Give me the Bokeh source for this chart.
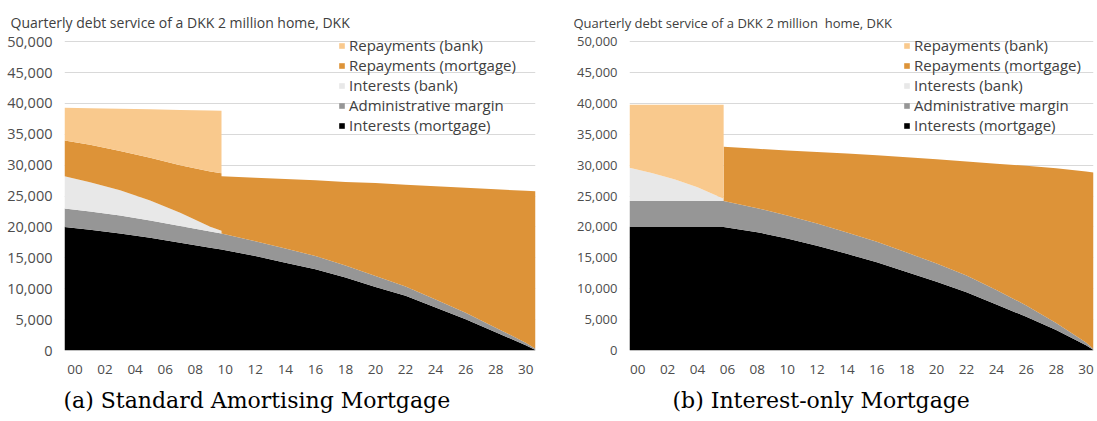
from bokeh.embed import file_html
from bokeh.layouts import row
from bokeh.models import (ColumnDataSource, FixedTicker, Legend, LegendItem,
                          NumeralTickFormatter, Range1d, Title)
from bokeh.plotting import figure
from bokeh.resources import INLINE

SERIES = ["Interests (mortgage)", "Administrative margin", "Interests (bank)",
          "Repayments (mortgage)", "Repayments (bank)"]
COLORS = ["#000000", "#969696", "#e8e8e8", "#dd9338", "#f9c98d"]

year_ticks = list(range(0, 31, 2))
year_labels = ["00", "02", "04", "06", "08", "10", "12", "14", "16", "18",
               "20", "22", "24", "26", "28", "30"]
dkk_ticks = list(range(0, 50001, 5000))

TITLE = "Quarterly debt service of a DKK 2 million home, DKK"
TITLE_B = "Quarterly debt service of a DKK 2 million\u00a0 home, DKK"

# (a) standard amortising mortgage, bank loan ends after ~10 years
a_years = [-0.7, 1, 3, 5, 7, 9, 9.75, 9.75, 12, 14, 16, 18, 20, 22, 24, 26, 28, 30, 30.65]
a_int_mortgage = [20000, 19550, 18950, 18250, 17450, 16650, 16350, 16350, 15300, 14200,
                  13150, 11800, 10300, 8850, 6950, 5050, 2950, 850, 100]
a_admin_margin = [3000, 2950, 2900, 2800, 2700, 2600, 2580, 2580, 2400, 2300,
                  2150, 1950, 1750, 1500, 1300, 1050, 750, 400, 200]
a_int_bank = [5200, 4750, 4100, 3250, 2150, 800, 450, 0, 0, 0,
              0, 0, 0, 0, 0, 0, 0, 0, 0]
a_rep_mortgage = [5800, 6050, 6350, 6900, 7700, 8950, 9300, 9270, 10250, 11250,
                  12250, 13550, 15050, 16500, 18350, 20250, 22400, 24600, 25500]
a_rep_bank = [5300, 5920, 6830, 7840, 8950, 9860, 10140, 0, 0, 0,
              0, 0, 0, 0, 0, 0, 0, 0, 0]

# (b) interest-only mortgage, bank loan ends after ~6 years
b_years = [-0.55, 1, 2.5, 4, 5.75, 5.75, 8, 10, 12, 14, 16, 18, 20, 22, 24, 26, 28, 30, 30.5]
b_int_mortgage = [20000, 20000, 20000, 20000, 20000, 20000, 19150, 18150, 16950, 15650,
                  14300, 12700, 11150, 9450, 7450, 5450, 3300, 850, 100]
b_admin_margin = [4200, 4200, 4200, 4200, 4200, 4200, 3900, 3700, 3600, 3450,
                  3300, 3150, 2950, 2700, 2350, 1850, 1150, 450, 150]
b_int_bank = [5400, 4500, 3500, 2250, 350, 0, 0, 0, 0, 0,
              0, 0, 0, 0, 0, 0, 0, 0, 0]
b_rep_mortgage = [0, 0, 0, 0, 0, 8800, 9600, 10550, 11600, 12800,
                  14000, 15450, 16850, 18450, 20450, 22600, 25050, 27700, 28550]
b_rep_bank = [10200, 11100, 12100, 13350, 15250, 0, 0, 0, 0, 0,
              0, 0, 0, 0, 0, 0, 0, 0, 0]


def make_panel(years, series, x_end, width, border_left, border_right, title, title_size,
               title_offset, tick_size, legend_x, caption, caption_offset):
    data = {"x": years}
    data.update(dict(zip(SERIES, series)))
    source = ColumnDataSource(data)

    # a little headroom above 50,000 so the legend's first row stays inside the frame
    p = figure(width=width, height=421, x_range=Range1d(years[0], x_end),
               y_range=Range1d(0, 51000), output_backend="svg", toolbar_location=None,
               min_border_left=border_left, min_border_right=border_right,
               min_border_top=35, min_border_bottom=69)
    p.title.visible = False
    p.outline_line_color = None
    p.background_fill_color = "white"

    areas = p.varea_stack(stackers=SERIES, x="x", color=COLORS, source=source)

    p.xaxis.ticker = FixedTicker(ticks=year_ticks)
    p.xaxis.major_label_overrides = dict(zip(year_ticks, year_labels))
    p.yaxis.ticker = FixedTicker(ticks=dkk_ticks)
    p.yaxis.formatter = NumeralTickFormatter(format="0,0")
    for ax in (p.xaxis, p.yaxis):
        ax.axis_line_color = None
        ax.major_tick_line_color = None
        ax.minor_tick_line_color = None
        ax.major_label_text_font = "Open Sans"
        ax.major_label_text_color = "#4d4d4d"
    p.xaxis.major_label_text_font_size = "13.5px"
    p.xaxis.major_label_standoff = 8
    p.yaxis.major_label_text_font_size = tick_size
    p.yaxis.major_label_standoff = 6
    p.xgrid.visible = False
    p.ygrid.grid_line_color = "#d9d9d9"

    items = [LegendItem(label=name, renderers=[r]) for name, r in zip(SERIES, areas)]
    legend = Legend(items=items[::-1], location=(legend_x, 215),
                    glyph_width=7, glyph_height=7, label_height=20, label_standoff=4,
                    spacing=0, padding=0, margin=0, background_fill_alpha=0,
                    border_line_alpha=0, label_text_font="Open Sans",
                    label_text_font_size="15px", label_text_color="#404040")
    p.add_layout(legend)

    p.add_layout(Title(text=title, align="left", offset=title_offset, standoff=8,
                       text_font="Open Sans", text_font_size=title_size,
                       text_font_style="normal", text_color="#404040"), "above")
    p.add_layout(Title(text=caption, align="left", offset=caption_offset, standoff=18,
                       text_font="DejaVu Serif", text_font_size="22px",
                       text_font_style="normal", text_color="black"), "below")
    return p


pa = make_panel(a_years, [a_int_mortgage, a_admin_margin, a_int_bank, a_rep_mortgage, a_rep_bank],
                30.65, 560, 64, 25, TITLE, "14px", -54, "14.5px", 274,
                "(a) Standard Amortising Mortgage", -1)
pb = make_panel(b_years, [b_int_mortgage, b_admin_margin, b_int_bank, b_rep_mortgage, b_rep_bank],
                30.5, 537, 69, 4, TITLE_B, "13px", -56, "13px", 274,
                "(b) Interest-only Mortgage", 43)

layout = row(pa, pb)
open("out.html", "w").write(file_html(layout, INLINE))
